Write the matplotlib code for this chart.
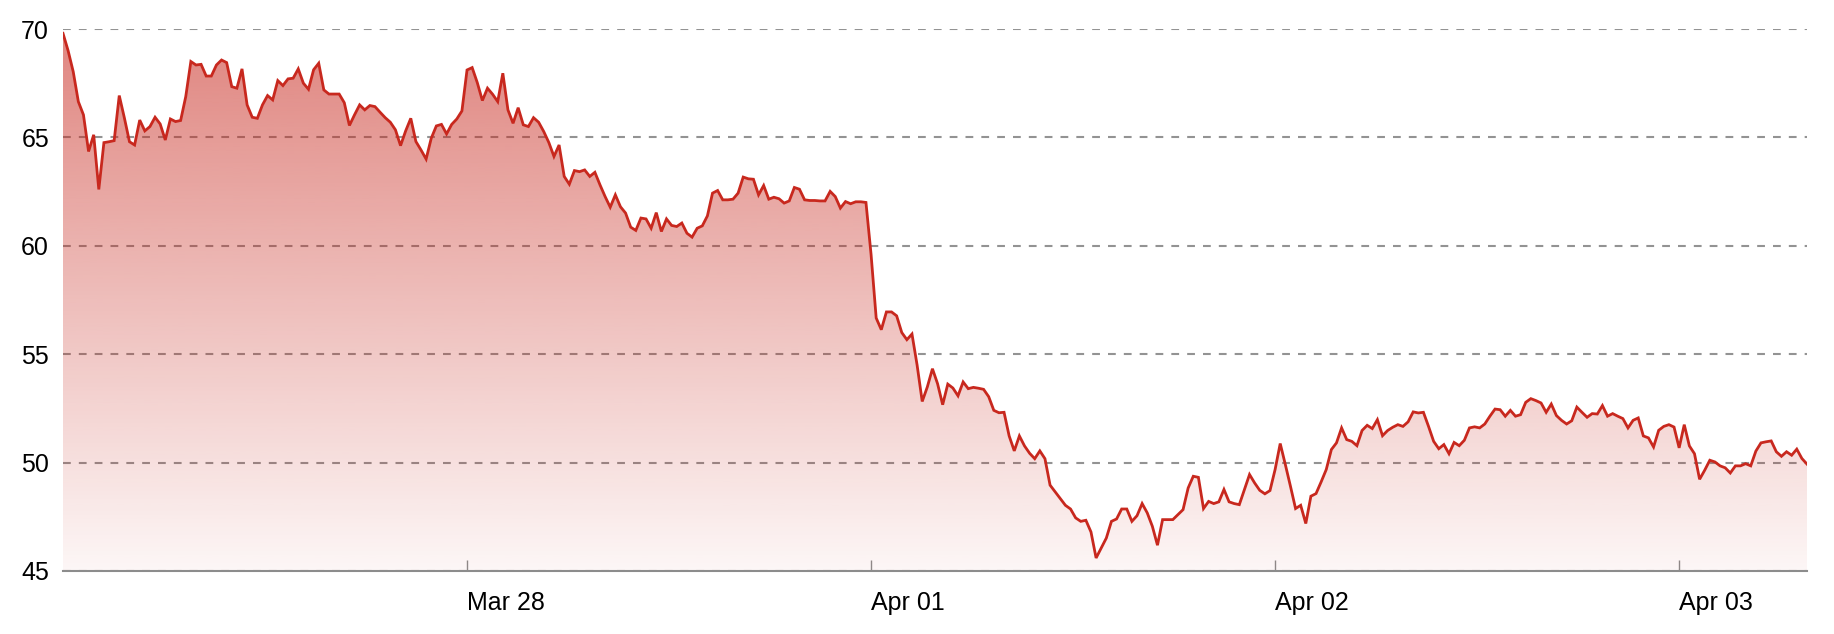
import numpy as np
import matplotlib
matplotlib.use("Agg")
import matplotlib.pyplot as plt

# ---------------- data ----------------
tick_labels = ["Mar 28", "Apr 01", "Apr 02", "Apr 03"]
points_per_day = 79

prices = [
    69.8, 69.0, 68.03, 66.65, 66.04, 64.35, 65.12, 62.6, 64.76, 64.8,
    64.85, 66.93, 65.9, 64.8, 64.65, 65.8, 65.3, 65.5, 65.93, 65.62,
    64.88, 65.85, 65.73, 65.78, 66.88, 68.5, 68.34, 68.37, 67.83, 67.83,
    68.34, 68.57, 68.45, 67.34, 67.27, 68.16, 66.5, 65.93, 65.88, 66.5,
    66.93, 66.73, 67.62, 67.39, 67.7, 67.73, 68.16, 67.5, 67.22, 68.12,
    68.42,
    67.19, 67.0, 67.0, 67.0, 66.6, 65.55, 66.04, 66.5, 66.27, 66.47,
    66.42, 66.16, 65.91, 65.7, 65.35, 64.62, 65.3, 65.88, 64.81, 64.42,
    64.0, 64.96, 65.53, 65.6, 65.16, 65.6, 65.85, 66.22, 68.11, 68.22,
    67.53, 66.7, 67.27, 66.99, 66.65, 67.96, 66.27, 65.65, 66.37, 65.58,
    65.5, 65.91, 65.7, 65.27, 64.76, 64.12, 64.65, 63.2, 62.84, 63.47,
    63.42, 63.5, 63.2, 63.39, 62.81, 62.27, 61.78, 62.35, 61.8,
    61.51, 60.86, 60.71, 61.28, 61.24, 60.81, 61.53, 60.66, 61.24, 60.94,
    60.89, 61.05, 60.58, 60.40, 60.81, 60.92, 61.38, 62.43, 62.55, 62.12,
    62.12, 62.15, 62.43, 63.17, 63.09, 63.07, 62.35, 62.78, 62.15, 62.24,
    62.17, 61.97, 62.07, 62.69, 62.61, 62.12, 62.09, 62.09, 62.07, 62.07,
    62.51, 62.27, 61.74, 62.04, 61.94, 62.03, 62.03, 62.0, 59.6, 56.67,
    56.13, 56.95, 56.95, 56.77, 56.0, 55.67, 55.93,
    54.5, 52.82, 53.49, 54.33, 53.64, 52.67, 53.62, 53.44, 53.08, 53.72,
    53.41, 53.47, 53.43, 53.38, 53.04, 52.41, 52.30, 52.32, 51.23, 50.54,
    51.23, 50.77, 50.43, 50.18, 50.54, 50.18, 48.96, 48.65, 48.34, 48.03,
    47.86, 47.45, 47.29, 47.34, 46.80, 45.60, 46.06, 46.52, 47.29, 47.40,
    47.86, 47.86, 47.29, 47.55, 48.11, 47.68,
    47.06, 46.19, 47.37, 47.37, 47.37, 47.60, 47.83, 48.83, 49.37, 49.32,
    47.88, 48.21, 48.11, 48.19, 48.76, 48.19, 48.11, 48.06, 48.76, 49.45,
    49.06, 48.72, 48.56, 48.71, 49.68, 50.88, 49.91, 48.91, 47.88, 48.03,
    47.19, 48.45, 48.57, 49.11, 49.68, 50.60, 50.91, 51.60, 51.06, 50.98,
    50.78, 51.48, 51.72, 51.57, 51.98, 51.24, 51.48,
    51.63, 51.75, 51.67, 51.88, 52.34, 52.29, 52.32, 51.67, 50.98, 50.64,
    50.83, 50.41, 50.93, 50.78, 51.03, 51.60, 51.65, 51.60, 51.78, 52.14,
    52.47, 52.44, 52.14, 52.41, 52.14, 52.21, 52.78, 52.95, 52.86, 52.75,
    52.32, 52.70, 52.17, 51.95, 51.78, 51.93, 52.56, 52.32, 52.09, 52.26,
    52.24, 52.63, 52.14,
    52.26, 52.14, 52.03, 51.60, 51.95, 52.06, 51.23, 51.14, 50.72, 51.49,
    51.67, 51.75, 51.64, 50.68, 51.75, 50.77, 50.41, 49.23, 49.65, 50.11,
    50.03, 49.85, 49.76, 49.52, 49.85, 49.85, 49.95, 49.85, 50.53, 50.91,
    50.96, 51.0, 50.50, 50.29, 50.50, 50.34, 50.62, 50.19, 49.93,
]
y_ticks = [45, 50, 55, 60, 65, 70]

# ---------------- style ----------------
plt.rcParams["font.family"] = ["Liberation Sans", "DejaVu Sans"]
plt.rcParams["lines.scale_dashes"] = False

line_color = "#c8281e"
line_rgb = np.array([200, 40, 30]) / 255.0

x = np.arange(len(prices))
y = np.array(prices)
ymin, ymax = y_ticks[0], y_ticks[-1]

fig = plt.figure(figsize=(18.34, 6.34), dpi=100)
ax = fig.add_axes([63 / 1834, 1 - 571 / 634, (1807 - 63) / 1834, (571 - 29) / 634])

ax.set_xlim(x[0], x[-1])
ax.set_ylim(ymin, ymax)

# gradient fill
n = 256
rgba = np.zeros((n, 1, 4))
rgba[..., :3] = line_rgb
rgba[:, 0, 3] = np.linspace(0.04, 0.57, n)
im = ax.imshow(rgba, extent=[x[0], x[-1], ymin, ymax], origin="lower",
               aspect="auto", zorder=1, interpolation="bilinear")
poly = ax.fill_between(x, y, ymin, facecolor="none", edgecolor="none")
im.set_clip_path(poly.get_paths()[0], transform=ax.transData)

ax.plot(x, y, color=line_color, linewidth=2.0, zorder=3, solid_joinstyle="miter")

# grid
ax.set_axisbelow(True)
ax.yaxis.grid(True, color="#939393", linewidth=1.5, linestyle=(0, (5.6, 5.8)))
ax.xaxis.grid(False)

# ticks
ax.set_yticks(y_ticks)
ax.set_yticklabels([str(v) for v in y_ticks])
tick_pos = [points_per_day * (i + 1) for i in range(len(tick_labels))]
ax.set_xticks(tick_pos)
ax.set_xticklabels(tick_labels)
for lab in ax.get_xticklabels():
    lab.set_horizontalalignment("left")

ax.tick_params(axis="y", length=0, pad=10, labelsize=18, labelcolor="#000000")
ax.tick_params(axis="x", direction="in", length=7.7, width=1.0, color="#8c8c8c",
               pad=14.5, labelsize=18, labelcolor="#000000")

for s in ["left", "right", "top"]:
    ax.spines[s].set_visible(False)
ax.spines["bottom"].set_color("#8c8c8c")
ax.spines["bottom"].set_linewidth(1.5)
ax.spines["bottom"].set_zorder(4)

fig.savefig("out.png", dpi=100, facecolor="white")
